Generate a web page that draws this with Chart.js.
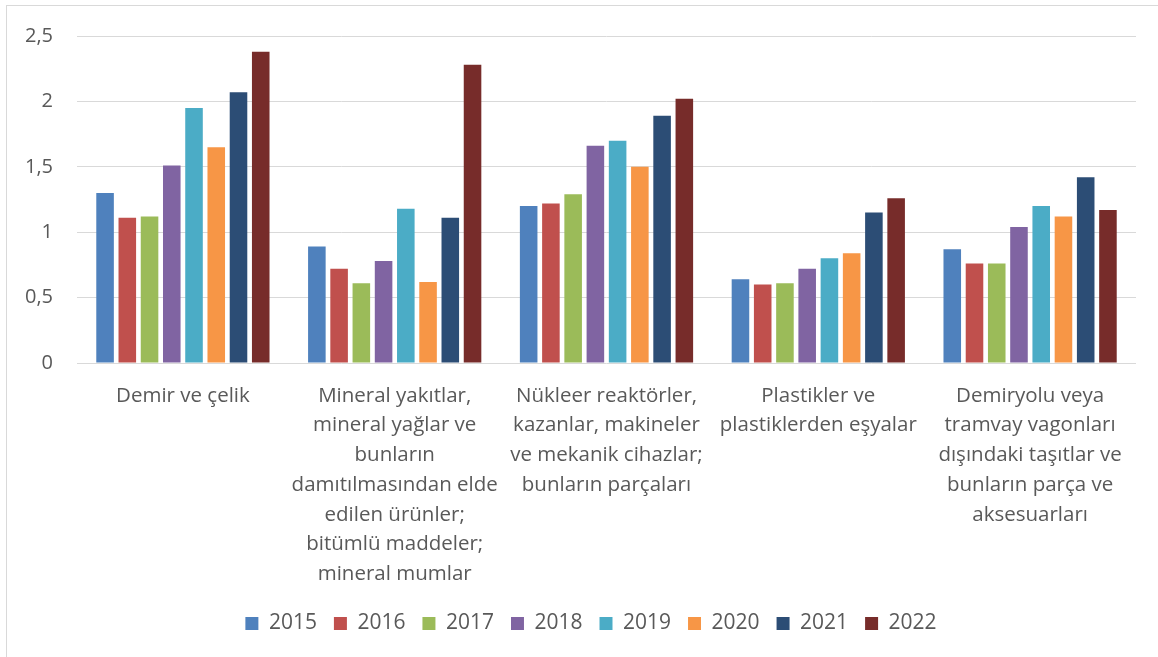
<!DOCTYPE html>
<html>
<head>
<meta charset="utf-8">
<script src="https://cdn.jsdelivr.net/npm/chart.js@4/dist/chart.umd.min.js"></script>
<style>
  html, body { margin: 0; padding: 0; background: #fff; }
  #wrap { position: absolute; left: 0; top: 0; width: 1158px; height: 657px; }
  #frame { position: absolute; left: 6px; top: 5px; width: 1152px; height: 652px;
           border-left: 1px solid #d9d9d9; border-top: 1px solid #d9d9d9; box-sizing: border-box; }
</style>
</head>
<body>
<div id="wrap">
  <div id="frame"></div>
  <canvas id="chart" width="1158" height="657"></canvas>
</div>
<script>
// category labels, already wrapped like the original
var categories = [
  ["Demir ve çelik"],
  ["Mineral yakıtlar,", "mineral yağlar ve", "bunların", "damıtılmasından elde", "edilen ürünler;", "bitümlü maddeler;", "mineral mumlar"],
  ["Nükleer reaktörler,", "kazanlar, makineler", "ve mekanik cihazlar;", "bunların parçaları"],
  ["Plastikler ve", "plastiklerden eşyalar"],
  ["Demiryolu veya", "tramvay vagonları", "dışındaki taşıtlar ve", "bunların parça ve", "aksesuarları"]
];

var years = ["2015", "2016", "2017", "2018", "2019", "2020", "2021", "2022"];

var v2015 = [1.30, 0.89, 1.20, 0.64, 0.87];
var v2016 = [1.11, 0.72, 1.22, 0.60, 0.76];
var v2017 = [1.12, 0.61, 1.29, 0.61, 0.76];
var v2018 = [1.51, 0.78, 1.66, 0.72, 1.04];
var v2019 = [1.95, 1.18, 1.70, 0.80, 1.20];
var v2020 = [1.65, 0.62, 1.50, 0.84, 1.12];
var v2021 = [2.07, 1.11, 1.89, 1.15, 1.42];
var v2022 = [2.38, 2.28, 2.02, 1.26, 1.17];

var colors = ['#4f81bd', '#c0504d', '#9bbb59', '#8064a2', '#4bacc6', '#f79646', '#2c4d75', '#772c2a'];
var series = [v2015, v2016, v2017, v2018, v2019, v2020, v2021, v2022];

var datasets = years.map(function(y, i) {
  return {
    label: y,
    data: series[i],
    backgroundColor: colors[i],
    borderWidth: 0,
    categoryPercentage: 0.84,
    barPercentage: 0.79
  };
});

var textColor = '#595959';

// nudge the legend a bit to the right, like in the original
var legendShift = {
  id: 'legendShift',
  afterLayout: function(chart) {
    chart.legend.left += 23;
    chart.legend.right += 23;
  }
};

new Chart(document.getElementById('chart'), {
  type: 'bar',
  data: { labels: categories, datasets: datasets },
  plugins: [legendShift],
  options: {
    responsive: false,
    animation: false,
    layout: { padding: { left: 0, right: 22, top: 35, bottom: 13 } },
    plugins: {
      tooltip: { enabled: false },
      legend: {
        position: 'bottom',
        labels: {
          boxWidth: 13,
          boxHeight: 13,
          padding: 17,
          color: textColor,
          font: { family: 'Open Sans', size: 21 }
        }
      }
    },
    scales: {
      x: {
        grid: { display: false, drawTicks: false },
        border: { display: false },
        ticks: {
          color: textColor,
          maxRotation: 0,
          autoSkip: false,
          padding: 18,
          font: { family: 'Open Sans', size: 20.5, lineHeight: 1.45 }
        },
        afterFit: function(scale) { scale.height = 233; }
      },
      y: {
        min: 0,
        max: 2.5,
        grid: { color: '#d9d9d9', lineWidth: 1, drawTicks: false },
        border: { display: false },
        ticks: {
          stepSize: 0.5,
          color: textColor,
          padding: 24,
          font: { family: 'Open Sans', size: 20 },
          callback: function(v) { return String(v).replace('.', ','); }
        },
        afterFit: function(scale) { scale.width = 77; }
      }
    }
  }
});
</script>
</body>
</html>
